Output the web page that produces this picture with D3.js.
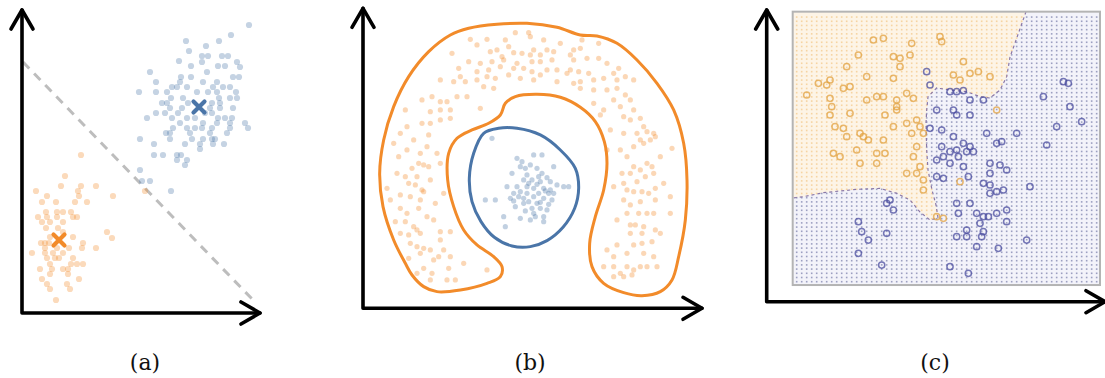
<!DOCTYPE html>
<html>
<head>
<meta charset="utf-8">
<script src="https://cdn.jsdelivr.net/npm/d3@7"></script>
<style>
  body { margin: 0; background: #fff; }
  svg { display: block; }
</style>
</head>
<body>
<svg id="fig"></svg>
<script>
var width = 1105;
var height = 378;

// ---- panel (a): two gaussian blobs, linear separator
var aBlue = [[227,288],[209,278],[197,272],[164,272],[184,267],[167,262],[180,257],[186,257],[200,257],[206,257],
  [157,252],[180,251],[215,251],[169,247],[196,247],[203,247],[218,246],[128,241],[185,241],[159,236],[169,236],
  [211,236],[217,236],[134,231],[158,231],[181,231],[195,231],[150,226],[155,226],[165,226],[191,226],[201,226],
  [208,226],[117,221],[134,221],[145,221],[175,221],[186,221],[195,221],[214,221],[149,215],[161,215],[197,215],
  [208,215],[215,215],[140,210],[145,210],[166,210],[190,210],[198,210],[148,205],[160,205],[188,205],[198,205],
  [211,205],[134,200],[143,200],[156,200],[183,200],[190,200],[125,195],[150,195],[165,195],[173,195],[196,195],
  [203,195],[210,195],[158,190],[181,190],[195,190],[208,190],[223,190],[151,185],[165,185],[173,185],[180,185],
  [190,185],[208,185],[226,185],[144,180],[148,180],[168,180],[188,180],[205,180],[118,174],[148,174],[170,174],
  [181,174],[190,174],[193,174],[132,169],[163,169],[178,169],[191,169],[202,169],[178,164],[132,158],[141,158],
  [155,158],[159,158],[155,153],[165,153],[163,148],[118,143],[120,132],[128,132],[149,122]];
var aOrange = [[59,158],[43,137],[39,127],[59,127],[74,127],[14,122],[56,122],[25,117],[57,117],[91,117],
  [20,111],[34,111],[53,111],[65,111],[24,101],[35,101],[41,101],[49,101],[16,96],[25,96],[35,96],[51,96],[55,96],
  [20,91],[28,91],[41,91],[24,85],[36,85],[41,81],[85,81],[28,76],[51,76],[90,75],[19,70],[23,70],[27,70],[61,70],
  [23,65],[35,65],[47,65],[60,65],[74,65],[10,60],[23,60],[31,60],[41,60],[25,55],[33,55],[37,55],[51,55],
  [28,49],[49,49],[55,49],[61,49],[18,44],[30,44],[41,44],[46,44],[28,39],[46,39],[20,34],[57,34],[25,29],
  [45,29],[28,24],[48,24],[34,13],[123,122]];
var aCentres = [[177,206],[37,73]];
var aSplit = [[1,251],[231,13]];

// ---- panel (b): ring around a core
var bOrange = [[322,807],[372,807],[427,805],[457,827],[497,827],[502,815],[542,805],[657,805],[707,795],
  [382,770],[402,775],[452,767],[477,765],[512,775],[552,775],[572,770],[632,775],[652,780],[532,760],[502,760],
  [417,755],[267,765],[317,740],[352,735],[387,740],[422,745],[462,735],[507,740],[532,740],[567,745],[632,745],
  [672,750],[707,750],[732,735],[287,720],[342,710],[377,715],[412,725],[452,720],[482,720],[507,710],[552,715],
  [582,715],[622,715],[647,710],[677,705],[752,705],[767,720],[232,685],[272,680],[307,680],[342,685],[372,695],
  [397,690],[472,690],[532,700],[612,705],[652,680],[692,685],[722,690],[762,685],[787,695],[812,685],[177,625],
  [207,635],[232,620],[252,620],[282,635],[312,635],[362,665],[392,660],[652,660],[692,655],[732,655],[762,660],
  [787,640],[802,625],[202,590],[232,595],[262,595],[352,600],[692,615],[722,595],[752,625],[772,605],[812,595],
  [177,555],[202,555],[232,565],[262,570],[712,580],[782,575],[802,565],[842,545],[852,530],[872,525],[127,595],
  [112,525],[197,520],[152,505],[742,535],[782,525],[832,505],[822,525],[862,505],[877,515],[172,465],[132,475],
  [107,455],[222,465],[772,475],[812,485],[842,495],[927,480],[167,435],[182,430],[147,420],[232,435],[197,425],
  [812,425],[852,435],[867,425],[832,415],[872,405],[127,395],[137,375],[157,370],[177,355],[202,385],[777,405],
  [802,405],[782,375],[822,380],[847,395],[902,375],[72,360],[112,340],[142,335],[182,350],[217,315],[792,355],
  [812,350],[837,350],[857,345],[877,360],[112,300],[167,300],[172,325],[242,345],[782,325],[802,310],[832,320],
  [877,325],[852,285],[97,260],[127,260],[152,245],[172,225],[212,265],[792,285],[827,285],[872,285],[922,285],
  [112,225],[137,220],[162,235],[232,230],[262,230],[802,250],[817,250],[842,245],[877,235],[802,225],[837,225],
  [162,185],[182,180],[202,175],[232,205],[172,165],[732,175],[762,190],[812,190],[837,195],[867,200],[227,155],
  [262,155],[182,120],[207,105],[257,120],[302,135],[372,115],[722,125],[752,125],[772,105],[792,125],[812,115],
  [832,125],[852,125],[872,155],[162,105],[252,85],[277,85],[202,85],[752,95],[782,95],[807,100],
  [342,790],[592,795],[437,785],[622,760],[292,695],[437,700],[512,685],[582,680],[632,675],[132,545],[92,495],
  [192,485],[102,405],[162,395],[82,325],[132,285],[192,275],[142,195],[212,145],[242,175],[137,150],[832,570],
  [732,475],[792,455],[892,455],[752,365],[922,335],[762,265],[892,225],[752,155],[792,165],[842,165],[882,125]];
var bBlue = [[387,510],[462,450],[512,460],[537,460],[472,425],[487,420],[522,420],[572,425],[447,405],[492,400],
  [537,405],[482,385],[507,385],[532,380],[562,380],[582,370],[602,365],[617,365],[432,365],[462,365],[492,365],
  [512,360],[542,360],[472,350],[452,345],[527,345],[557,345],[572,345],[367,325],[397,325],[442,330],[482,330],
  [512,335],[542,330],[482,315],[522,315],[567,325],[457,305],[507,300],[532,300],[552,295],[422,275],[472,270],
  [502,265],[542,275],[427,245],[542,260],[512,285],[492,345],[477,440],[502,430],[527,395],[552,392],[497,375],
  [522,372],[547,352],[467,335],[497,320],[532,318],[557,312],[452,322],[487,292],[517,275],[562,355]];
var bOuter = [[147,100],[182,65],[222,50],[292,55],[372,75],[412,95],[417,125],[392,155],[342,190],[302,235],
  [272,305],[254,385],[257,465],[282,510],[327,535],[377,555],[412,580],[427,615],[457,635],[522,642],[592,633],
  [652,603],[697,560],[724,500],[732,435],[722,355],[697,275],[680,195],[687,125],[722,75],[782,47],[837,38],
  [892,50],[927,85],[947,155],[967,265],[972,385],[962,495],[932,595],[882,675],[822,745],[762,795],[702,817],
  [652,820],[582,843],[492,855],[402,852],[317,840],[262,820],[197,770],[137,695],[92,605],[62,505],[50,405],
  [60,305],[92,205],[127,135]];
var bInner = [[362,525],[407,540],[462,540],[532,520],[592,475],[637,420],[647,360],[635,300],[600,243],[552,203],
  [502,185],[447,187],[394,213],[354,260],[327,320],[319,390],[332,465]];

// ---- panel (c): classifier decision surface
var cOrange = [[320,785],[350,790],[435,775],[520,795],[525,780],[380,735],[400,730],[430,740],[275,740],[240,705],
  [190,665],[180,650],[250,645],[230,640],[120,620],[190,610],[300,675],[330,615],[350,615],[390,605],[420,625],
  [440,610],[195,585],[250,565],[190,560],[205,525],[230,520],[280,505],[290,495],[305,485],[240,495],[355,560],
  [390,585],[420,535],[450,545],[460,525],[470,505],[435,505],[450,465],[440,435],[460,405],[450,385],[470,365],
  [420,385],[200,445],[220,435],[280,415],[330,415],[270,455],[350,485],[380,525],[580,665],[610,685],[590,720],
  [635,690],[670,675],[690,575],[580,360],[470,335],[510,255],[530,250],[390,575],[300,605],[155,655],[380,670],
  [400,705],[560,680],[330,445],[355,445]];
var cBlue = [[490,650],[480,690],[550,630],[570,630],[590,633],[610,605],[650,605],[510,575],[560,575],[570,560],
  [610,560],[490,520],[525,515],[560,495],[590,475],[610,465],[525,465],[550,450],[570,455],[600,450],[620,450],
  [690,475],[705,480],[660,505],[750,505],[840,470],[510,425],[530,435],[550,415],[575,435],[590,405],[510,375],
  [530,370],[605,375],[670,415],[700,410],[720,395],[650,355],[670,350],[670,325],[690,330],[710,335],[670,385],
  [790,345],[890,660],[905,655],[830,615],[910,585],[870,525],[945,540],[360,295],[370,305],[380,275],[275,240],
  [285,210],[305,185],[360,205],[275,145],[345,110],[570,295],[575,265],[610,295],[630,265],[650,255],[640,235],
  [665,255],[690,265],[720,275],[720,240],[600,215],[570,195],[600,195],[645,195],[650,210],[630,165],[695,160],
  [780,185],[550,105],[605,85]];
var cBoundary = [[778,870],[745,776],[730,734],[720,675],[700,635],[670,611],[640,615],[600,630],[550,635],
  [510,641],[484,615],[480,575],[478,536],[480,455],[484,395],[496,335],[508,290],[514,251],[490,245],[460,269],
  [430,305],[390,325],[340,340],[270,337],[170,327],[110,315],[78,311]];
var cBox = [78, 1000, 50, 870];          // x0, x1, y0, y1 (data units)
var cGridX = d3.range(90, 1000, 15);
var cGridY = d3.range(60, 866, 12.6);

var panelLabels = ['(a)', '(b)', '(c)'];

var blue = '#4a75a8';
var orange = '#f28b2a';

var svg = d3.select('#fig')
  .attr('width', width)
  .attr('height', height)
  .style('font-family', '"DejaVu Serif", "Liberation Serif", serif');

// scales, one pair per panel
var xA = d3.scaleLinear().domain([0, 238]).range([22, 260]);
var yA = d3.scaleLinear().domain([0, 303]).range([313, 10]);
var xB = d3.scaleLinear().domain([0, 1017]).range([363, 702]);
var yB = d3.scaleLinear().domain([0, 900]).range([308.3, 8.3]);
var xC = d3.scaleLinear().domain([0, 1015]).range([766.7, 1105]);
var yC = d3.scaleLinear().domain([0, 875]).range([301.7, 10]);

// black arrowed axes
var drawAxes = function(x, y){
  var ox = x.range()[0], oy = y.range()[0];
  var tx = x.range()[1], ty = y.range()[1];
  var g = svg.append('g')
    .attr('fill', 'none')
    .attr('stroke', '#000')
    .attr('stroke-width', 3.6)
    .attr('stroke-linecap', 'round')
    .attr('stroke-linejoin', 'round');
  g.append('path').attr('d', 'M' + ox + ',' + ty + 'V' + oy + 'H' + tx);
  g.append('path').attr('d', 'M' + (ox - 11) + ',' + (ty + 19) + 'L' + ox + ',' + ty + 'L' + (ox + 11) + ',' + (ty + 19));
  g.append('path').attr('d', 'M' + (tx - 19) + ',' + (oy - 11) + 'L' + tx + ',' + oy + 'L' + (tx - 19) + ',' + (oy + 11));
}

// ---------- (a)
svg.append('line')
  .attr('x1', xA(aSplit[0][0])).attr('y1', yA(aSplit[0][1]))
  .attr('x2', xA(aSplit[1][0])).attr('y2', yA(aSplit[1][1]))
  .attr('stroke', '#bdbdbd')
  .attr('stroke-width', 3)
  .attr('stroke-dasharray', '9,7');

[[aBlue, blue], [aOrange, orange]].forEach(function(d){
  svg.append('g').selectAll('circle')
    .data(d[0])
    .enter()
    .append('circle')
    .attr('cx', function(p){ return xA(p[0]); })
    .attr('cy', function(p){ return yA(p[1]); })
    .attr('r', 3.1)
    .attr('fill', d[1])
    .attr('fill-opacity', 0.32);
});

svg.append('g').selectAll('path')
  .data(aCentres)
  .enter()
  .append('path')
  .attr('d', function(p){
    var cx = xA(p[0]), cy = yA(p[1]), s = 5.5;
    return 'M' + (cx - s) + ',' + (cy - s) + 'L' + (cx + s) + ',' + (cy + s) +
           'M' + (cx - s) + ',' + (cy + s) + 'L' + (cx + s) + ',' + (cy - s);
  })
  .attr('stroke', function(p, i){ return i == 0 ? blue : orange; })
  .attr('stroke-width', 4.2)
  .attr('stroke-linecap', 'round');

drawAxes(xA, yA);

// ---------- (b)
[[bOrange, orange], [bBlue, blue]].forEach(function(d){
  svg.append('g').selectAll('circle')
    .data(d[0])
    .enter()
    .append('circle')
    .attr('cx', function(p){ return xB(p[0]); })
    .attr('cy', function(p){ return yB(p[1]); })
    .attr('r', 2.6)
    .attr('fill', d[1])
    .attr('fill-opacity', 0.34);
});

var contour = d3.line()
  .x(function(p){ return xB(p[0]); })
  .y(function(p){ return yB(p[1]); })
  .curve(d3.curveCatmullRomClosed.alpha(0.5));

svg.append('path').attr('d', contour(bOuter))
  .attr('fill', 'none').attr('stroke', orange).attr('stroke-width', 3);
svg.append('path').attr('d', contour(bInner))
  .attr('fill', 'none').attr('stroke', blue).attr('stroke-width', 3);

drawAxes(xB, yB);

// ---------- (c)
var blur = svg.append('defs').append('filter').attr('id', 'soft');
blur.append('feGaussianBlur').attr('stdDeviation', 0.45);

var gc = svg.append('g').attr('filter', 'url(#soft)');

gc.append('rect')
  .attr('x', xC(cBox[0])).attr('y', yC(cBox[3]))
  .attr('width', xC(cBox[1]) - xC(cBox[0]))
  .attr('height', yC(cBox[2]) - yC(cBox[3]))
  .attr('fill', '#f3f3fa');

var region = [[cBox[0], cBox[3]]].concat(cBoundary);

gc.append('path')
  .attr('d', d3.line().x(function(p){ return xC(p[0]); }).y(function(p){ return yC(p[1]); })(region) + 'Z')
  .attr('fill', '#fdf4e6');

var mesh = [];
cGridY.forEach(function(gy){
  cGridX.forEach(function(gx){
    mesh.push([gx, gy, d3.polygonContains(region, [gx, gy])]);
  });
});

gc.append('g').selectAll('rect')
  .data(mesh)
  .enter()
  .append('rect')
  .attr('x', function(p){ return xC(p[0]) - 0.8; })
  .attr('y', function(p){ return yC(p[1]) - 0.8; })
  .attr('width', 1.6)
  .attr('height', 1.6)
  .attr('fill', function(p){ return p[2] ? '#f2c685' : '#7f83ad'; })
  .attr('fill-opacity', function(p){ return p[2] ? 0.7 : 0.75; });

gc.append('path')
  .attr('d', d3.line().x(function(p){ return xC(p[0]); }).y(function(p){ return yC(p[1]); })(cBoundary))
  .attr('fill', 'none')
  .attr('stroke', '#8a78a8')
  .attr('stroke-width', 1.2)
  .attr('stroke-dasharray', '3,3');

[[cOrange, '#e2a240'], [cBlue, '#4a4c9f']].forEach(function(d){
  gc.append('g').selectAll('circle')
    .data(d[0])
    .enter()
    .append('circle')
    .attr('cx', function(p){ return xC(p[0]); })
    .attr('cy', function(p){ return yC(p[1]); })
    .attr('r', 3.1)
    .attr('fill', 'none')
    .attr('stroke', d[1])
    .attr('stroke-width', 1.5)
    .attr('stroke-opacity', 0.75);
});

gc.append('rect')
  .attr('x', xC(cBox[0])).attr('y', yC(cBox[3]))
  .attr('width', xC(cBox[1]) - xC(cBox[0]))
  .attr('height', yC(cBox[2]) - yC(cBox[3]))
  .attr('fill', 'none')
  .attr('stroke', '#b4b4b4')
  .attr('stroke-width', 2);

drawAxes(xC, yC);

// ---------- labels
var labelX = [145, 530, 935];
svg.selectAll('text.panel')
  .data(panelLabels)
  .enter()
  .append('text')
  .attr('class', 'panel')
  .attr('x', function(d, i){ return labelX[i]; })
  .attr('y', 370)
  .attr('text-anchor', 'middle')
  .attr('font-size', 22)
  .attr('fill', '#111')
  .text(function(d){ return d; });
</script>
</body>
</html>
